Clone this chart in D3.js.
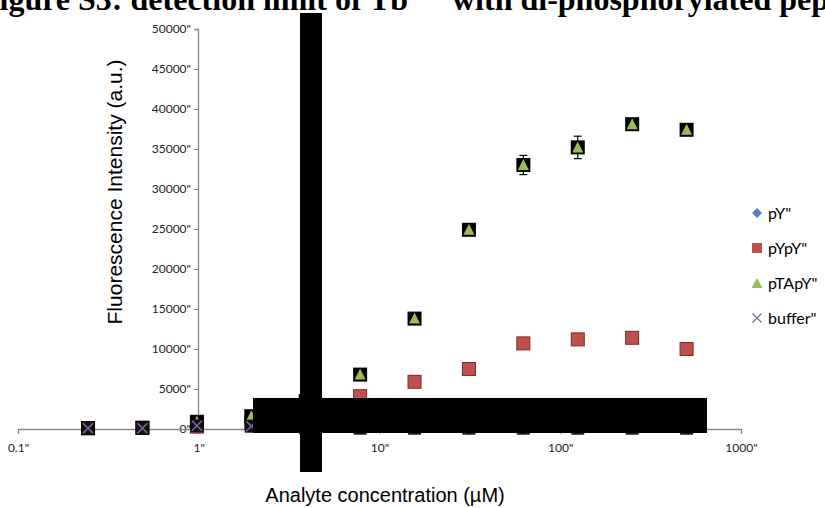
<!DOCTYPE html>
<html>
<head>
<meta charset="utf-8">
<script src="https://cdn.jsdelivr.net/npm/d3@7"></script>
<style>
  body { margin: 0; background: #fff; }
  svg { display: block; }
</style>
</head>
<body>
<svg id="chart" width="825" height="508"></svg>
<script>
var width = 825;
var height = 508;

// concentrations (uM), two-fold dilution series
var conc = [0.244, 0.488, 0.977, 1.953, 3.906, 7.8125, 15.625, 31.25, 62.5, 125, 250, 500];
var pY = [100, 150, 700, 1500, 3500, 6800, 13800, 24900, 33000, 35200, 38100, 37400];
var pYpY = [100, 150, 300, 700, 2000, 4100, 5900, 7500, 10700, 11200, 11400, 10000];
var pTApY = [100, 150, 900, 1600, 3500, 6800, 13800, 24900, 33000, 35200, 38100, 37400];
var pTApY_err = [0, 0, 0, 0, 0, 300, 300, 300, 1200, 1400, 700, 300];
var buffer = [100, 100, 400, 350, 100, 100, 100, 100, 100, 100, 100, 100];

var xTicks = [0.1, 1, 10, 100, 1000];
var yTicks = [0, 5000, 10000, 15000, 20000, 25000, 30000, 35000, 40000, 45000, 50000];
var seriesNames = ["pY", "pYpY", "pTApY", "buffer"];

var x = d3.scaleLog()
  .domain([0.1, 1000])
  .range([18, 741]);

var y = d3.scaleLinear()
  .domain([0, 50000])
  .range([429, 29]);

var svg = d3.select("#chart");
var axisColor = "#868686";
var tickFont = "Lato, 'Open Sans', sans-serif";

// title (cropped at the top edge of the page)
var title = svg.append("text")
  .attr("x", -20)
  .attr("y", 9.5)
  .attr("font-family", "'Liberation Serif', 'Times New Roman', serif")
  .attr("font-weight", "bold")
  .attr("font-size", 32)
  .attr("fill", "#000");
title.append("tspan").text("Figure S3: detection limit of Tb");
title.append("tspan").attr("dy", -12).attr("font-size", 20).text("3+");
title.append("tspan").attr("x", 452).attr("y", 9.5).text("with di-phosphorylated peptides");

// y axis
var yAxis = d3.axisLeft(y)
  .tickValues(yTicks)
  .tickSize(4)
  .tickFormat(function(d) { return d + "\""; });

var yg = svg.append("g")
  .attr("transform", "translate(198,0)")
  .call(yAxis);
yg.select(".domain").attr("stroke", axisColor).attr("stroke-width", 1.3);
yg.selectAll(".tick line").attr("stroke", axisColor);
yg.selectAll(".tick text")
  .attr("font-family", tickFont)
  .attr("font-size", 12)
  .attr("fill", "#222")
  .attr("x", -7);

// x axis at y = 0
var xAxis = d3.axisBottom(x)
  .tickValues(xTicks)
  .tickSize(5)
  .tickFormat(function(d) { return d + "\""; });

var xg = svg.append("g")
  .attr("transform", "translate(0," + y(0) + ")")
  .call(xAxis);
xg.select(".domain").attr("stroke", axisColor).attr("stroke-width", 1.3);
xg.selectAll(".tick line").attr("stroke", axisColor);
xg.selectAll(".tick text")
  .attr("font-family", tickFont)
  .attr("font-size", 12)
  .attr("fill", "#222")
  .attr("y", 14);

// axis titles
svg.append("text")
  .attr("transform", "translate(122,192) rotate(-90)")
  .attr("text-anchor", "middle")
  .attr("font-family", "'Liberation Sans', Arial, sans-serif")
  .attr("font-size", 21)
  .attr("fill", "#000")
  .text("Fluorescence Intensity (a.u.)");

svg.append("text")
  .attr("x", 385)
  .attr("y", 502)
  .attr("text-anchor", "middle")
  .attr("font-family", "'Liberation Sans', Arial, sans-serif")
  .attr("font-size", 20)
  .attr("fill", "#000")
  .text("Analyte concentration (\u00b5M)");

function pts(vals) {
  return vals.map(function(v, i) { return { c: conc[i], v: v, i: i }; });
}

var plot = svg.append("g");

// pY diamonds (hidden under triangles)
plot.selectAll(".pY")
  .data(pts(pY))
  .enter()
  .append("path")
    .attr("d", d3.symbol().type(d3.symbolDiamond2).size(90))
    .attr("transform", function(d) { return "translate(" + x(d.c) + "," + y(d.v) + ")"; })
    .attr("fill", "#4F81BD");

// pYpY squares
plot.selectAll(".pYpY")
  .data(pts(pYpY))
  .enter()
  .append("rect")
    .attr("x", function(d) { return x(d.c) - 6.5; })
    .attr("y", function(d) { return y(d.v) - 6.5; })
    .attr("width", 13)
    .attr("height", 13)
    .attr("fill", "#C0504D")
    .attr("stroke", "#7a2a28")
    .attr("stroke-width", 1);

// pTApY error bars
var errG = plot.selectAll(".err")
  .data(pts(pTApY).filter(function(d) { return pTApY_err[d.i] > 0; }))
  .enter()
  .append("g");
errG.append("line")
  .attr("x1", function(d) { return x(d.c); })
  .attr("x2", function(d) { return x(d.c); })
  .attr("y1", function(d) { return y(d.v + pTApY_err[d.i]); })
  .attr("y2", function(d) { return y(d.v - pTApY_err[d.i]); })
  .attr("stroke", "#000").attr("stroke-width", 1.2);
[1, -1].forEach(function(s) {
  errG.append("line")
    .attr("x1", function(d) { return x(d.c) - 4; })
    .attr("x2", function(d) { return x(d.c) + 4; })
    .attr("y1", function(d) { return y(d.v + s * pTApY_err[d.i]); })
    .attr("y2", function(d) { return y(d.v + s * pTApY_err[d.i]); })
    .attr("stroke", "#000").attr("stroke-width", 1.2);
});

// pTApY triangles on dark squares
var triG = plot.selectAll(".pTApY")
  .data(pts(pTApY))
  .enter()
  .append("g")
    .attr("transform", function(d) { return "translate(" + x(d.c) + "," + y(d.v) + ")"; });
triG.append("rect")
  .attr("x", -7).attr("y", -7).attr("width", 14).attr("height", 14)
  .attr("fill", "#000");
triG.append("path")
  .attr("d", "M0,-6L5.5,5L-5.5,5Z")
  .attr("fill", "#9BBB59");

// buffer crosses on dark squares
var bufG = plot.selectAll(".buffer")
  .data(pts(buffer))
  .enter()
  .append("g")
    .attr("transform", function(d) { return "translate(" + x(d.c) + "," + y(d.v) + ")"; });
bufG.append("rect")
  .attr("x", -6.5).attr("y", -6.5).attr("width", 13).attr("height", 13)
  .attr("fill", "#111");
bufG.append("path")
  .attr("d", "M-5,-5L5,5M5,-5L-5,5")
  .attr("stroke", "#8064A2")
  .attr("stroke-width", 1.6);

// legend
var legendY = [213, 248, 283, 318];
var leg = svg.selectAll(".leg")
  .data(seriesNames)
  .enter()
  .append("g")
    .attr("transform", function(d, i) { return "translate(757," + legendY[i] + ")"; });
leg.each(function(d, i) {
  var g = d3.select(this);
  if (i === 0) {
    g.append("path").attr("d", "M0,-5L5,0L0,5L-5,0Z").attr("fill", "#4F81BD");
  } else if (i === 1) {
    g.append("rect").attr("x", -5).attr("y", -5).attr("width", 10).attr("height", 10).attr("fill", "#C0504D");
  } else if (i === 2) {
    g.append("path").attr("d", "M0,-5L5.5,5L-5.5,5Z").attr("fill", "#9BBB59");
  } else {
    g.append("path").attr("d", "M-4.5,-4.5L4.5,4.5M4.5,-4.5L-4.5,4.5").attr("stroke", "#8064A2").attr("stroke-width", 1.2);
  }
});
leg.append("text")
  .attr("x", 11)
  .attr("y", 6)
  .attr("font-family", tickFont)
  .attr("font-size", 16)
  .attr("fill", "#000")
  .text(function(d) { return d + "\""; });

// black redaction boxes
svg.append("rect").attr("x", 253).attr("y", 398).attr("width", 454).attr("height", 35).attr("fill", "#000");
svg.append("rect").attr("x", 300).attr("y", 13).attr("width", 22).attr("height", 459).attr("fill", "#000");
</script>
</body>
</html>
